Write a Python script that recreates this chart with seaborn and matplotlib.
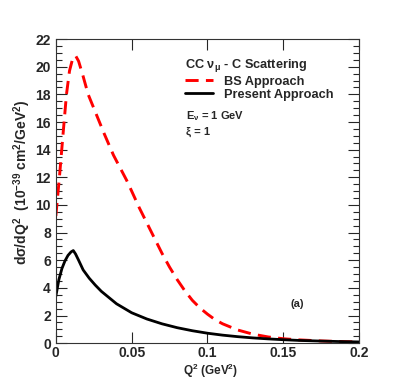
import numpy as np
import pandas as pd
import seaborn as sns
import matplotlib
matplotlib.use("Agg")
import matplotlib.pyplot as plt
from matplotlib.ticker import MultipleLocator

# valori (Q^2 in GeV^2, dsigma/dQ^2 in 1e-39 cm^2/GeV^2)
q2_bs = [0.0, 0.0025, 0.0048, 0.007, 0.009, 0.011, 0.013, 0.015, 0.018, 0.0213,
         0.0265, 0.0317, 0.038, 0.0466, 0.05, 0.055, 0.06, 0.065, 0.07, 0.075,
         0.08, 0.085, 0.09, 0.095, 0.1, 0.105, 0.11, 0.12, 0.13, 0.14,
         0.15, 0.16, 0.175, 0.19, 0.2]
xs_bs = [9.2, 12.2, 15.2, 18.0, 19.7, 20.55, 20.8, 20.4, 19.3, 18.0,
         16.6, 15.2, 13.6, 11.8, 11.0, 9.8, 8.7, 7.6, 6.5, 5.5,
         4.6, 3.8, 3.1, 2.55, 2.1, 1.7, 1.4, 0.95, 0.65, 0.45,
         0.32, 0.24, 0.16, 0.11, 0.09]

q2_pr = [0.0, 0.002, 0.004, 0.006, 0.008, 0.010, 0.0115, 0.013, 0.015, 0.018,
         0.022, 0.026, 0.03, 0.035, 0.04, 0.05, 0.06, 0.07, 0.08, 0.09,
         0.1, 0.11, 0.12, 0.13, 0.14, 0.15, 0.16, 0.175, 0.19, 0.2]
xs_pr = [3.4, 4.6, 5.4, 5.95, 6.35, 6.6, 6.7, 6.45, 6.0, 5.3,
         4.7, 4.2, 3.75, 3.3, 2.85, 2.2, 1.75, 1.4, 1.12, 0.9,
         0.72, 0.58, 0.47, 0.38, 0.31, 0.25, 0.2, 0.15, 0.11, 0.09]

x_ticks = [0, 0.05, 0.1, 0.15, 0.2]
x_ticklabels = ["0", "0.05", "0.1", "0.15", "0.2"]

df_bs = pd.DataFrame({"q2": q2_bs, "xs": xs_bs})
df_pr = pd.DataFrame({"q2": q2_pr, "xs": xs_pr})

sns.set_style("ticks")
plt.rcParams["font.family"] = ["Liberation Sans", "DejaVu Sans"]
plt.rcParams["font.weight"] = "bold"
plt.rcParams["mathtext.fontset"] = "custom"
plt.rcParams["mathtext.rm"] = "Liberation Sans:bold"
plt.rcParams["mathtext.it"] = "Liberation Sans:bold"
plt.rcParams["mathtext.bf"] = "Liberation Sans:bold"

fig = plt.figure(figsize=(3.99, 3.83), dpi=100)
ax = fig.add_axes([0.140, 0.104, 0.760, 0.794])

sns.lineplot(data=df_bs, x="q2", y="xs", ax=ax, color="#ff0000", lw=2.1,
             label="BS Approach")
ax.lines[-1].set_dashes((4.5, 2.5))
sns.lineplot(data=df_pr, x="q2", y="xs", ax=ax, color="black", lw=2.0,
             label="Present Approach")

ax.set_xlim(0, 0.2)
ax.set_ylim(0, 22)
ax.set_xticks(x_ticks)
ax.set_xticklabels(x_ticklabels)
ax.yaxis.set_major_locator(MultipleLocator(2))
ax.yaxis.set_minor_locator(MultipleLocator(0.5))
ax.tick_params(which="both", direction="in", top=True, right=True, labelsize=10)
ax.tick_params(which="major", length=8, width=0.8)
ax.tick_params(axis="x", pad=2)
ax.tick_params(which="minor", length=4, width=0.8)
for s in ax.spines.values():
    s.set_linewidth(0.8)
    s.set_color("#333333")

ax.set_xlabel("Q$^2$ (GeV$^2$)", fontsize=8.5, fontweight="bold", ha="right")
ax.xaxis.set_label_coords(0.60, -0.062)
ax.set_ylabel("d\u03c3/dQ$^2$  (10$^{-39}$ cm$^2$/GeV$^2$)", fontsize=10,
              fontweight="bold")
ax.yaxis.set_label_coords(-0.076, 0.53)

leg = ax.legend(title="CC \u03bd$_\\mu$ - C Scattering", loc="upper left",
                bbox_to_anchor=(0.425, 0.94), frameon=False, fontsize=9.2,
                title_fontsize=9.2, handlelength=2.2, handletextpad=0.85,
                borderaxespad=0, labelspacing=0.1, borderpad=0)
leg._legend_box.align = "left"
leg.get_title().set_fontweight("bold")

ax.text(0.43, 0.748, "E$_\\nu$ = 1 GeV", transform=ax.transAxes, fontsize=8,
        fontweight="bold", va="center")
ax.text(0.43, 0.695, "\u03be = 1", transform=ax.transAxes, fontsize=8,
        fontweight="bold", va="center")
ax.text(0.155, 2.6, "(a)", fontsize=8, fontweight="bold")

fig.savefig("out.png", dpi=100)
